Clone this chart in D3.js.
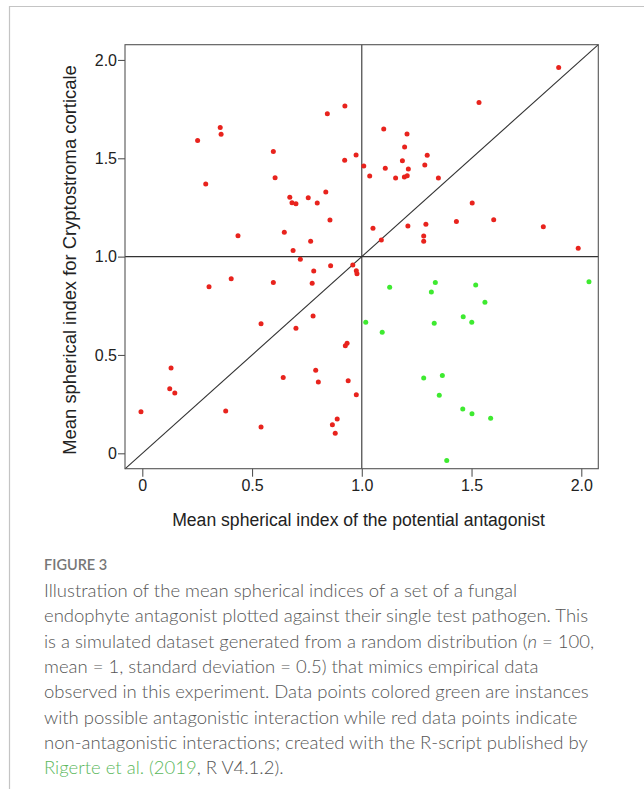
<!DOCTYPE html>
<html><head><meta charset="utf-8">
<script src="https://cdn.jsdelivr.net/npm/d3@7/dist/d3.min.js"></script>
<style>
html,body{margin:0;padding:0;background:#fff;}
svg{display:block;}
</style></head>
<body>
<script>
// ---- data ----
const redX = [0.923,0.843,0.355,0.359,0.252,0.597,0.922,0.974,1.009,1.036,0.289,0.605,0.672,0.682,0.700,0.756,0.836,0.797,0.855,0.436,0.647,0.767,0.687,0.720,
  1.897,1.534,1.100,1.206,1.195,1.298,1.185,1.107,1.212,1.287,1.154,1.194,1.207,1.349,1.503,1.051,1.210,1.292,1.431,1.601,1.827,1.282,1.282,1.089,1.986,
  0.858,0.781,0.959,0.975,0.978,0.405,0.304,0.597,0.774,0.541,0.778,0.700,0.925,0.933,0.131,0.125,0.148,0.790,0.642,0.802,0.938,0.975,-0.006,0.380,0.541,0.888,0.866,0.879];
const redY = [1.766,1.727,1.657,1.622,1.591,1.535,1.490,1.517,1.461,1.410,1.369,1.401,1.302,1.274,1.269,1.299,1.328,1.273,1.186,1.106,1.124,1.078,1.031,0.986,
  1.962,1.784,1.649,1.623,1.557,1.515,1.488,1.449,1.445,1.466,1.400,1.405,1.411,1.400,1.273,1.144,1.156,1.164,1.179,1.188,1.152,1.105,1.078,1.084,1.042,
  0.954,0.927,0.957,0.928,0.913,0.888,0.847,0.869,0.864,0.659,0.698,0.636,0.547,0.559,0.434,0.328,0.307,0.422,0.386,0.362,0.369,0.298,0.211,0.215,0.134,0.174,0.145,0.102];
const greenX = [1.127,1.335,1.317,1.519,1.561,2.035,1.018,1.093,1.330,1.462,1.501,1.282,1.367,1.353,1.460,1.502,1.587,1.387];
const greenY = [0.844,0.869,0.820,0.856,0.768,0.872,0.666,0.615,0.661,0.694,0.666,0.383,0.395,0.295,0.225,0.201,0.178,-0.036];
const tickValues = [0, 0.5, 1, 1.5, 2];
const tickLabels = ["0", "0.5", "1.0", "1.5", "2.0"];
const xTitle = "Mean spherical index of the potential antagonist";
const yTitle = "Mean spherical index for Cryptostroma corticale";
const captionHead = "FIGURE 3";
const captionLines = [
  [{t:"Illustration of the mean spherical indices of a set of a fungal"}],
  [{t:"endophyte antagonist plotted against their single test pathogen. This"}],
  [{t:"is a simulated dataset generated from a random distribution ("},{t:"n",i:true},{t:" = 100,"}],
  [{t:"mean = 1, standard deviation = 0.5) that mimics empirical data"}],
  [{t:"observed in this experiment. Data points colored green are instances"}],
  [{t:"with possible antagonistic interaction while red data points indicate"}],
  [{t:"non-antagonistic interactions; created with the R-script published by"}],
  [{t:"Rigerte et al. (2019",g:true},{t:", R V4.1.2)."}]
];

const W = 644, H = 789;
const svg = d3.select("body").append("svg").attr("width", W).attr("height", H);
svg.append("rect").attr("width", W).attr("height", H).attr("fill", "#fff");

// outer figure frame (top + left)
svg.append("path").attr("d", `M9.5,${H} V6.5 H${W}`).attr("fill","none").attr("stroke","#c4c4c4").attr("stroke-width",1.2);

const box = {l:125, r:598.3, t:44.7, b:468.7};
const x = d3.scaleLinear().domain([-0.0788, 2.0775]).range([box.l, box.r]);
const y = d3.scaleLinear().domain([-0.0783, 2.0775]).range([box.b, box.t]);

const g = svg.append("g");
const font = "'Liberation Sans', Arial, sans-serif";

// reference lines
g.append("line").attr("x1", x(1)).attr("x2", x(1)).attr("y1", box.t).attr("y2", box.b).attr("stroke","#333").attr("stroke-width",1.1);
g.append("line").attr("x1", box.l).attr("x2", box.r).attr("y1", y(1)).attr("y2", y(1)).attr("stroke","#333").attr("stroke-width",1.1);
const dmin = x.domain()[0], dmax = x.domain()[1];
g.append("line").attr("x1", x(dmin)).attr("y1", y(dmin)).attr("x2", x(dmax)).attr("y2", y(dmax)).attr("stroke","#333").attr("stroke-width",1.1);

// points
const red = redX.map((v,i)=>({x:v, y:redY[i]}));
const green = greenX.map((v,i)=>({x:v, y:greenY[i]}));
g.selectAll("circle.red").data(red).join("circle").attr("class","red")
  .attr("cx", d=>x(d.x)).attr("cy", d=>y(d.y)).attr("r", 2.5).attr("fill", "#e8231d");
g.selectAll("circle.green").data(green).join("circle").attr("class","green")
  .attr("cx", d=>x(d.x)).attr("cy", d=>y(d.y)).attr("r", 2.5).attr("fill", "#3eea30");

// box
g.append("rect").attr("x", box.l).attr("y", box.t).attr("width", box.r-box.l).attr("height", box.b-box.t)
  .attr("fill","none").attr("stroke","#555").attr("stroke-width",1.1);

// axes
const xAxis = d3.axisBottom(x).tickValues(tickValues).tickFormat((d,i)=>tickLabels[i]).tickSize(8).tickPadding(3);
const yAxis = d3.axisLeft(y).tickValues(tickValues).tickFormat((d,i)=>tickLabels[i]).tickSize(7).tickPadding(1);
const gx = svg.append("g").attr("transform", `translate(0,${box.b})`).call(xAxis);
const gy = svg.append("g").attr("transform", `translate(${box.l},0)`).call(yAxis);
[gx, gy].forEach(a => {
  a.select(".domain").remove();
  a.selectAll(".tick line").attr("stroke","#555").attr("stroke-width",1.1);
  a.selectAll(".tick text").attr("fill","#222").style("font-family", font).style("font-size","16px");
});

// axis titles
svg.append("text").attr("x", 358.5).attr("y", 526).attr("text-anchor","middle")
  .style("font-family", font).style("font-size","17.6px").attr("fill","#222").text(xTitle);
svg.append("text").attr("transform", `translate(76,260) rotate(-90)`).attr("text-anchor","middle")
  .style("font-family", font).style("font-size","18.4px").attr("fill","#222").text(yTitle);

// caption
const capFont = "Lato, 'Open Sans', sans-serif";
svg.append("text").attr("x", 44).attr("y", 570).style("font-family", capFont).style("font-size","14.5px")
  .style("font-weight","600").attr("fill","#777").text(captionHead);
captionLines.forEach((line, i) => {
  const t = svg.append("text").attr("x", 44).attr("y", 597 + i*25.3)
    .style("font-family", capFont).style("font-size","18.5px").style("font-weight","300").attr("fill","#555");
  line.forEach(seg => {
    const s = t.append("tspan").text(seg.t);
    if (seg.i) s.style("font-style","italic");
    if (seg.g) s.attr("fill","#5cb85c");
  });
});
</script>
</body></html>
